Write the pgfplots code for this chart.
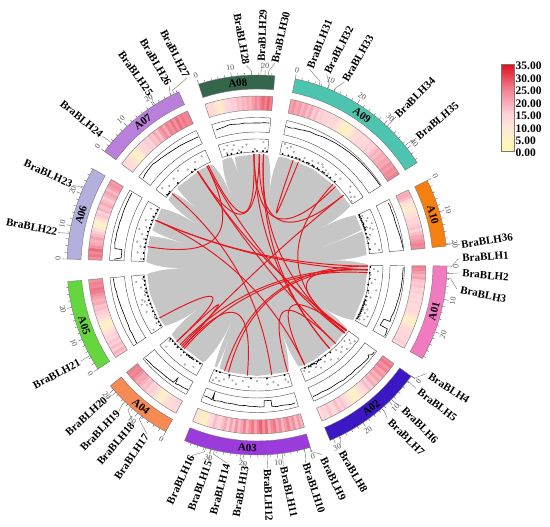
\documentclass[border=0pt]{standalone}
\usepackage{pgfplots}
\usepackage{fontspec}
\setmainfont{Liberation Serif}
\pgfplotsset{compat=1.18}
\pgfplotsset{/pgfplots/table/th/.style={header=false,row sep=\\,x expr=90-\thisrowno{0},y expr=\thisrowno{1}}}

\definecolor{hA}{HTML}{FFFAAE}
\definecolor{hB}{HTML}{FFEBD0}
\definecolor{hC}{HTML}{FFD3DC}
\definecolor{hD}{HTML}{F0808F}
\definecolor{hE}{HTML}{E0101F}
\definecolor{rgray}{HTML}{C6C6C6}
\definecolor{lnk}{HTML}{E8141C}
\definecolor{box}{HTML}{555555}
\definecolor{HotPinkRing}{HTML}{F27AC0}
\definecolor{BlueRing}{HTML}{3B18C4}
\definecolor{PurpleRing}{HTML}{9B3BDB}
\definecolor{OrangeRing}{HTML}{F58A55}
\definecolor{GreenRing}{HTML}{66D63F}
\definecolor{LavRing}{HTML}{B3B0DE}
\definecolor{MauveRing}{HTML}{B87FDB}
\definecolor{DkGreenRing}{HTML}{33664A}
\definecolor{TealRing}{HTML}{4CC4B0}
\definecolor{AmberRing}{HTML}{F57F0F}

% wedge between two clockwise angles (from north) and two radii
\newcommand{\sect}[5]{%
  \gdef\pts{}%
  \foreach \i in {0,...,24}{%
    \pgfmathsetmacro\tt{90-(#1+(#2-#1)*\i/24)}%
    \xdef\pts{\pts(\tt,#4)}%
    \ifnum\i=0 \xdef\first{(\tt,#4)}\fi}%
  \foreach \i in {24,23,...,0}{%
    \pgfmathsetmacro\tt{90-(#1+(#2-#1)*\i/24)}%
    \xdef\pts{\pts(\tt,#3)}}%
  \edef\tmp{\noexpand\addplot[\unexpanded{#5}] coordinates {\pts\first};}\tmp}

% white gap in the grey disc
\newcommand{\spike}[4]{%
  \gdef\pts{}%
  \foreach \i in {0,...,10}{%
    \pgfmathsetmacro\ss{\i/10}%
    \pgfmathsetmacro\tt{90-((#1+#2)/2+\ss*(#3-(#1+#2)/2)-(#2-#1)/2*(1-\ss)*(1-\ss))}%
    \pgfmathsetmacro\rd{112.5-\ss*(112.5-#4)}%
    \xdef\pts{\pts(\tt,\rd)}}%
  \foreach \i in {10,9,...,0}{%
    \pgfmathsetmacro\ss{\i/10}%
    \pgfmathsetmacro\tt{90-((#1+#2)/2+\ss*(#3-(#1+#2)/2)+(#2-#1)/2*(1-\ss)*(1-\ss))}%
    \pgfmathsetmacro\rd{112.5-\ss*(112.5-#4)}%
    \xdef\pts{\pts(\tt,\rd)}}%
  \edef\tmp{\noexpand\addplot[fill=white,draw=none] coordinates {\pts};}\tmp}

% heat track: one radial stroke per value
\newcommand{\heat}[3]{%
  \foreach \val [count=\n] in {#3}{\xdef\nn{\n}}%
  \pgfmathsetmacro\strk{(#2-#1)/\nn*3.1416/180*162+0.35}%
  \foreach \val [count=\n] in {#3}{%
    \pgfmathsetmacro\tt{90-(#1+(#2-#1)*(\n-0.5)/\nn)}%
    \ifdim\val pt<8pt
      \pgfmathtruncatemacro\pc{\val/8*100}\xdef\cc{hB!\pc!hA}%
    \else\ifdim\val pt<15pt
      \pgfmathtruncatemacro\pc{(\val-8)/7*100}\xdef\cc{hC!\pc!hB}%
    \else\ifdim\val pt<25pt
      \pgfmathtruncatemacro\pc{(\val-15)/10*100}\xdef\cc{hD!\pc!hC}%
    \else
      \pgfmathtruncatemacro\pc{(\val-25)/10*100}\xdef\cc{hE!\pc!hD}%
    \fi\fi\fi
    \edef\tmp{\noexpand\addplot[draw=\cc,line width=\strk pt] coordinates {(\tt,155)(\tt,169)};}\tmp}%
  \sect{#1}{#2}{155}{169}{draw=box!70,line width=0.5pt}}

% outer ring with ticks and tick labels
\newcommand{\chrom}[6]{%
  \sect{#1}{#2}{176}{190}{fill=#3,draw=box!80,line width=0.4pt}%
  \gdef\pts{}%
  \foreach \i in {0,...,#6}{%
    \pgfmathsetmacro\tt{90-(#1+2.03*\i)}%
    \pgfmathtruncatemacro\mm{mod(\i,5)}%
    \ifnum\mm=0 \def\rr{194.5}\else\def\rr{192.5}\fi
    \xdef\pts{\pts(\tt,190)(\tt,\rr)(\tt,nan)}%
    \ifnum\mm=0
      \pgfmathtruncatemacro\lab{\i*2}%
      \pgfmathsetmacro\thh{#1+2.03*\i}%
      \pgfmathsetmacro\xx{199*sin(\thh)}%
      \pgfmathsetmacro\yy{199*cos(\thh)}%
      \pgfmathsetmacro\rt{(\thh>90 && \thh<270) ? 180-\thh : -\thh}%
      \edef\tmp{\noexpand\node[font=\noexpand\fontsize{8}{9}\noexpand\selectfont,text=box,rotate=\rt,inner sep=0pt] at (axis cs:\xx,\yy) {\lab};}\tmp
    \fi}%
  \edef\tmp{\noexpand\addplot[draw=box,line width=0.35pt,unbounded coords=jump] coordinates {\pts};}\tmp
  \pgfmathsetmacro\xx{183*sin(#5)}%
  \pgfmathsetmacro\yy{183*cos(#5)}%
  \pgfmathsetmacro\rt{(#5>90 && #5<270) ? 180-#5 : -#5}%
  \edef\tmp{\noexpand\node[font=\noexpand\lbl,rotate=\rt,inner sep=0pt] at (axis cs:\xx,\yy) {#4};}\tmp}

% link between two genes, bent round the centre of the disc
\newcommand{\chord}[2]{%
  \gdef\pts{}%
  \foreach \i in {0,...,30}{%
    \pgfmathsetmacro\uu{\i/30}%
    \pgfmathsetmacro\xx{111*((1-\uu)*(1-\uu)*sin(#1)+\uu*\uu*sin(#2))}%
    \pgfmathsetmacro\yy{111*((1-\uu)*(1-\uu)*cos(#1)+\uu*\uu*cos(#2))}%
    \xdef\pts{\pts(\xx,\yy)}}%
  \edef\tmp{\noexpand\addplot[draw=lnk,line width=0.95pt,data cs=cart] coordinates {\pts};}\tmp}

% gene label with its leader; x,y in picture pixels
\newcommand{\gene}[5]{%
  \pgfmathsetmacro\xa{190*sin(#1)}%
  \pgfmathsetmacro\ya{190*cos(#1)}%
  \pgfmathsetmacro\xb{194*sin(#1)}%
  \pgfmathsetmacro\yb{194*cos(#1)}%
  \pgfmathsetmacro\xc{#2-257}%
  \pgfmathsetmacro\yc{265-#3}%
  \pgfmathsetmacro\sg{(#2<257) ? 1 : -1}%
  \pgfmathsetmacro\xd{\xc+\sg*27*cos(#4)}%
  \pgfmathsetmacro\yd{\yc+\sg*27*sin(#4)}%
  \edef\tmp{\noexpand\addplot[draw=box!80,line width=0.4pt,data cs=cart] coordinates {(\xa,\ya)(\xb,\yb)(\xd,\yd)};}\tmp
  \edef\tmp{\noexpand\node[font=\noexpand\lbl,rotate=#4,inner sep=0pt] at (axis cs:\xc,\yc) {BraBLH#5};}\tmp}

\newcommand{\lbl}{\bfseries\fontsize{11}{12}\selectfont}

\begin{document}
\begin{tikzpicture}
\begin{axis}[
  width=550pt,height=527pt,scale only axis,
  xmin=-257,xmax=293,ymin=-262,ymax=265,
  hide axis,clip=false,
  data cs=polar,
  colormap={circ}{rgb255(0)=(255,250,174) rgb255(8)=(255,235,208) rgb255(15)=(255,211,220) rgb255(25)=(240,128,143) rgb255(35)=(224,16,31)},
]
\path (axis cs:-257,-262) (axis cs:293,265);

% grey disc
\sect{0}{360}{0}{111}{fill=rgray,draw=none}
\spike{5.5}{11.5}{9.5}{73}
\spike{57.5}{63.5}{60.2}{75}
\spike{84.5}{90}{86.5}{73}
\spike{119.5}{125.8}{123}{79}
\spike{157.4}{163.7}{159.7}{71}
\spike{202.4}{208.7}{204}{64}
\spike{230.5}{236.8}{233.3}{75}
\spike{265}{271.8}{267.4}{74}
\spike{300.4}{306.7}{304}{75}
\spike{335.7}{342.1}{339.4}{77}
\spike{310.5}{314}{313}{85}
\spike{285}{288.5}{286.5}{77}
\spike{346.5}{348.5}{348.3}{94}
\spike{71.3}{72.1}{74.7}{68}
\spike{199.8}{201.6}{200.7}{82}

% links
\chord{1.2}{51.1}
\chord{358.4}{45}
\chord{19}{21.9}
\chord{334}{358.4}
\chord{327.7}{1.2}
\chord{279.5}{333.2}
\chord{327.5}{126}
\chord{333.2}{128}
\chord{310}{172.4}
\chord{293.8}{90.6}
\chord{293.8}{92.5}
\chord{3.4}{139}
\chord{293.8}{154.5}
\chord{241.5}{226.3}
\chord{222}{226.3}
\chord{224}{92.5}
\chord{221}{94}
\chord{51.1}{223}
\chord{194.9}{92.5}
\chord{197}{90.6}
\chord{185}{222}
\chord{154.5}{126}
\chord{164}{135}
\chord{92.5}{126.5}
\chord{43.2}{127.6}
\chord{358.4}{139}
\chord{327.7}{135}
\chord{3.4}{127.6}

% scatter track frames
\sect{90.3}{119.5}{113}{126}{draw=box,line width=0.45pt}
\sect{125.8}{157.4}{113}{126}{draw=box,line width=0.45pt}
\sect{163.7}{202.4}{113}{126}{draw=box,line width=0.45pt}
\sect{208.7}{230.5}{113}{126}{draw=box,line width=0.45pt}
\sect{236.8}{265}{113}{126}{draw=box,line width=0.45pt}
\sect{271.8}{300.4}{113}{126}{draw=box,line width=0.45pt}
\sect{306.7}{335.7}{113}{126}{draw=box,line width=0.45pt}
\sect{342.1}{365.4}{113}{126}{draw=box,line width=0.45pt}
\sect{11.6}{57.4}{113}{126}{draw=box,line width=0.45pt}
\sect{63.6}{84.3}{113}{126}{draw=box,line width=0.45pt}

% scatter points
\addplot[only marks,mark=o,mark size=0.85pt,draw=box!70,line width=0.35pt] table[th] {
92 117\\ 93 121\\ 95 114\\ 97 119\\ 99 116\\ 102 122\\ 104 115\\ 106 118\\ 108 115\\ 110 116\\ 112 119\\ 113 115\\ 114 118\\ 115 122\\ 116 115\\ 117 120\\ 118 116\\
128 124\\ 129 119\\ 130 122\\ 131 116\\ 133 123\\ 134 118\\ 136 121\\ 137 116\\ 139 124\\ 142 120\\ 145 118\\ 148 121\\ 150 118\\ 152 115\\ 154 119\\ 156 116\\
165 121\\ 166 118\\ 170 122\\ 172 118\\ 175 120\\ 180 116\\ 184 122\\ 187 117\\ 190 121\\ 192 118\\ 194 116\\ 196 119\\ 198 122\\ 200 120\\ 201 123\\
212 120\\ 216 123\\ 220 118\\ 224 115\\ 228 122\\ 229 116\\
238 122\\ 240 116\\ 243 115\\ 247 120\\ 250 117\\ 251 122\\ 252 118\\ 253 120\\ 255 116\\ 257 115\\ 259 118\\ 262 122\\ 263 115\\
273 116\\ 276 120\\ 279 118\\ 281 122\\ 283 116\\ 285 119\\ 287 123\\ 289 117\\ 292 120\\ 295 115\\ 298 120\\
309 122\\ 312 118\\ 316 120\\ 320 123\\ 324 118\\ 329 120\\ 333 122\\
344 120\\ 345 116\\ 346 123\\ 348 118\\ 349 122\\ 351 116\\ 353 119\\ 355 121\\ 359 116\\ 363 123\\ 364 117\\
13 124\\ 14.5 121\\ 16 123\\ 18 119\\ 21 114\\ 24 117\\ 28 118\\ 31 119\\ 33 120\\ 34 118\\ 36 117\\ 38 116\\ 41 120\\ 44 120\\ 50 122\\ 52 118\\ 54 116\\ 55 119\\ 56 114\\
65 116\\ 67 120\\ 68 118\\ 70 122\\ 71 116\\ 72 119\\ 73 121\\ 75 117\\ 77 115\\ 80 120\\ 83 123\\
};
\addplot[only marks,mark=*,mark size=0.7pt,black] table[th] {
91 113.5\\ 94 113\\ 97 113.5\\ 100 113\\ 103 114\\ 106 114\\ 108 114\\ 109 113.5\\ 110 114\\ 111 113.5\\ 112 114\\ 113 113.5\\ 114 114\\ 115 114\\ 116 113.5\\ 117 114\\ 118 113.5\\
140 114\\ 143 113.5\\ 146 114\\ 147 113.5\\ 148 114\\ 149 115\\ 150 114\\ 151 113.5\\ 152 114\\ 153 114\\ 155 113.5\\
166 113.5\\ 175 114\\ 183 113.5\\ 194 114\\ 199 113.5\\ 201 113.5\\
210 114\\ 212 113.5\\ 214 114\\ 215 113.5\\ 216 114\\ 217 113.5\\ 218 114\\ 220 114\\ 222 113.5\\ 224 114\\ 226 114\\ 228 113.5\\ 229.5 114\\
238 114\\ 240 113.5\\ 242 114\\ 244 113.5\\ 246 114\\ 248 113.5\\ 250 113.5\\ 252 114\\ 254 113.5\\ 256 114\\ 258 113.5\\ 260 114\\ 262 113.5\\ 264 114\\
273 113.5\\ 276 114\\ 279 114\\ 281 113.5\\ 283 114\\ 285 113.5\\ 287 114\\ 289 113.5\\ 291 113.5\\ 293 114\\ 295 114\\ 297 113.5\\ 299 114\\
308 114\\ 309 113.5\\ 310 114\\ 316 114\\ 325 113.5\\ 327 114\\
345 114\\ 347 114\\ 350 113.5\\ 352 114\\ 358 113.5\\ 360 114\\ 363 114\\ 365 114\\
13 114\\ 16 114\\ 18 113.5\\ 20 114\\ 22 114\\ 24 113.5\\ 26 114\\ 27 114\\ 29 114\\ 30 113.5\\ 32 114\\ 33 113.5\\ 35 114\\ 36 114\\ 38 113.5\\ 40 114\\ 43 114\\
64 114\\ 65 113.5\\ 66 114\\ 67 113.5\\ 68 114\\ 69 114\\ 70 113.5\\ 71 114\\ 72 114\\ 74 113.5\\ 76 114\\ 79 113.5\\ 82 114\\
};

% density line track frames
\sect{90.3}{119.5}{133}{147.5}{draw=box,line width=0.45pt}
\sect{125.8}{157.4}{133}{147.5}{draw=box,line width=0.45pt}
\sect{163.7}{202.4}{133}{147.5}{draw=box,line width=0.45pt}
\sect{208.7}{230.5}{133}{147.5}{draw=box,line width=0.45pt}
\sect{236.8}{265}{133}{147.5}{draw=box,line width=0.45pt}
\sect{271.8}{300.4}{133}{147.5}{draw=box,line width=0.45pt}
\sect{306.7}{335.7}{133}{147.5}{draw=box,line width=0.45pt}
\sect{342.1}{365.4}{133}{147.5}{draw=box,line width=0.45pt}
\sect{11.6}{57.4}{133}{147.5}{draw=box,line width=0.45pt}
\sect{63.6}{84.3}{133}{147.5}{draw=box,line width=0.45pt}

\addplot[black,line width=0.6pt] table[th] {91 146.3\\ 93 146\\ 95 146.2\\ 97 145.8\\ 99 146\\ 101 145.6\\ 103 145.5\\ 105 145\\ 107 145\\ 109 144.8\\ 111 144\\ 113 144.5\\ 113.1 138\\ 116 137\\ 116.1 145\\ 118 146\\ 119 146\\};
\addplot[black,line width=0.6pt] table[th] {126.5 146\\ 128 145.8\\ 129 143\\ 129.5 145\\ 131 145\\ 133 144.5\\ 135 144\\ 137 143.5\\ 139 144\\ 141 143.5\\ 143 144\\ 145 143\\ 147 143\\ 149 143.2\\ 151 143\\ 153 142.5\\ 155 143\\ 157 143\\};
\addplot[black,line width=0.6pt] table[th] {164.5 143\\ 166 143.5\\ 168 143\\ 170 142.5\\ 172 143\\ 174 142\\ 174.1 136\\ 177 136\\ 177.1 142\\ 179 142\\ 181 141.5\\ 183 141.5\\ 185 141\\ 187 141.5\\ 189 141\\ 191 141\\ 193 141.5\\ 195 141\\ 197 142\\ 198 142\\ 198.3 135\\ 198.6 142\\ 200 141\\ 202 141\\};
\addplot[black,line width=0.6pt] table[th] {209 142.6\\ 211 143\\ 213 143\\ 214.5 144\\ 215 138\\ 215.5 144\\ 217 144\\ 219 144\\ 222 144\\ 224 144.5\\ 226 145\\ 228 145\\ 230 145.6\\};
\addplot[black,line width=0.6pt] table[th] {237 143.5\\ 239 143\\ 241 142.5\\ 243 142.8\\ 245 142\\ 247 142\\ 249 141.8\\ 251 142\\ 253 142.3\\ 255 142.5\\ 257 143\\ 259 143\\ 261 143.8\\ 263 144\\ 264.7 144.3\\};
\addplot[black,line width=0.6pt] table[th] {272.3 143\\ 273 136\\ 276.5 136\\ 276.6 143\\ 279 144\\ 281 143.6\\ 283 143.9\\ 285 143.5\\ 287 143.8\\ 289 143.5\\ 291 143.7\\ 293 144\\ 295 144\\ 297 144.2\\ 299.8 144.4\\};
\addplot[black,line width=0.6pt] table[th] {307.3 143\\ 309 144\\ 311 144.5\\ 314 145\\ 316 144\\ 318 143.6\\ 320 143\\ 322 142.6\\ 324 142.2\\ 327 142\\ 330 141.5\\ 333 141\\ 335.4 141\\};
\addplot[black,line width=0.6pt] table[th] {343 141\\ 345 141.5\\ 347 142\\ 349 143\\ 351 142.5\\ 353 142\\ 355 142.5\\ 357 142\\ 359 142\\ 361 142\\ 363 142.5\\ 365 142.5\\};
\addplot[black,line width=0.6pt] table[th] {12 141.5\\ 14 141\\ 15.5 142\\ 17 141.8\\ 19 142.5\\ 21.7 143.4\\ 24 143\\ 27 144\\ 30 144.5\\ 33 145\\ 36 145.2\\ 39 145.6\\ 42 145.8\\ 45 146\\ 48 146\\ 51 146.2\\ 54 146.4\\ 57 146.5\\};
\addplot[black,line width=0.6pt] table[th] {64.8 145\\ 66 145.5\\ 68 145\\ 70 145.2\\ 72 144.8\\ 74.7 144.9\\ 77 145.5\\ 79 146\\ 81 146.5\\ 83.5 147\\};

% heat track
\heat{90.3}{119.5}{25,24,22,19,21,17,16,17,15,16,14,15,13,15,12,13,14,12,10,7,6,8,11,13,12,15,14,13,16,14}
\heat{125.8}{157.4}{24,26,23,25,21,23,19,21,18,20,16,18,15,13,10,7,5,6,9,12,14,17,15,18,15,13,17,14,15,13}
\heat{163.7}{202.4}{19,22,18,23,20,25,22,19,24,21,26,24,20,27,23,28,25,21,26,23,19,25,21,18,23,17,21,16,20,18,15,16,18,14,12,7,5,6,9,10}
\heat{208.7}{230.5}{13,15,14,13,12,10,7,5,8,12,14,16,15,18,17,19,21,20,23,25,24,25}
\heat{236.8}{265}{17,19,16,18,15,17,14,15,13,11,8,6,7,10,13,15,16,18,17,20,19,21,23,25,26,24,25,23}
\heat{271.8}{300.4}{23,26,24,27,23,20,19,21,18,16,12,7,5,8,14,17,15,19,17,20,18,16,19,21,18,21,23,22}
\heat{306.7}{335.7}{14,13,12,11,7,5,6,9,13,14,15,16,15,18,17,20,17,22,24,20,25,23,26,23,27,24,26,24,25}
\heat{342.1}{365.4}{13,12,14,11,9,5,11,13,14,15,16,15,18,17,19,18,20,19,22,24,22,25,27,25,28,25}
\heat{11.6}{57.4}{21,23,20,22,19,21,18,20,16,18,15,16,14,15,13,14,15,11,9,5,4,6,8,11,13,12,14,13,15,14,16,15,17,19,18,20,19,21,20,23,22,24,23,25}
\heat{63.6}{84.3}{19,20,18,13,11,9,7,9,11,13,15,14,16,17,15,18,20,21,23,25,24}

% outer ring
\chrom{90.3}{119.5}{HotPinkRing}{A01}{104.6}{14}
\chrom{125.8}{157.4}{BlueRing}{A02}{141.4}{15}
\chrom{163.7}{202.4}{PurpleRing}{A03}{183}{18}
\chrom{208.7}{230.5}{OrangeRing}{A04}{219.3}{10}
\chrom{236.8}{265}{GreenRing}{A05}{250.7}{13}
\chrom{271.8}{300.4}{LavRing}{A06}{285.9}{14}
\chrom{306.7}{335.7}{MauveRing}{A07}{321.4}{14}
\chrom{342.1}{365.4}{DkGreenRing}{A08}{354}{11}
\chrom{11.6}{57.4}{TealRing}{A09}{35}{22}
\chrom{63.6}{84.3}{AmberRing}{A10}{74}{10}

% gene labels
\gene{90.6}{485.5}{256.7}{4}{1}
\gene{92.5}{485.5}{275.3}{-5}{2}
\gene{94}{483.3}{294.7}{-12}{3}
\gene{125.7}{449}{388.3}{-33}{4}
\gene{127.6}{437.3}{405}{-38}{5}
\gene{135}{420}{425}{-45}{6}
\gene{139}{406.3}{437.3}{-45}{7}
\gene{154.5}{353.3}{471.7}{-60}{8}
\gene{163.9}{333.3}{479}{-65}{9}
\gene{165.6}{314}{488.3}{-72}{10}
\gene{172.4}{289}{492.3}{-78}{11}
\gene{176.8}{268.3}{495}{-88}{12}
\gene{185}{240.7}{491.7}{80}{13}
\gene{193}{220}{489.3}{75}{14}
\gene{194}{200}{486}{70}{15}
\gene{195.7}{180.7}{480}{65}{16}
\gene{217.4}{131.7}{456.7}{55}{17}
\gene{221.7}{115.7}{443.7}{50}{18}
\gene{224}{100}{430.7}{46}{19}
\gene{228}{86.3}{416.3}{42}{20}
\gene{241.5}{56.7}{374}{28}{21}
\gene{279.5}{31.7}{227}{-12}{22}
\gene{293.8}{48.3}{173.7}{-25}{23}
\gene{310}{81.7}{119}{-40}{24}
\gene{327.5}{135.7}{73.3}{-55}{25}
\gene{333.2}{155.7}{62.3}{-60}{26}
\gene{334.2}{175}{53.7}{-63}{27}
\gene{358.4}{241.7}{39}{-80}{28}
\gene{1.2}{262.3}{35.7}{88}{29}
\gene{3.4}{280.7}{37.3}{77}{30}
\gene{19}{319.7}{44.3}{68}{31}
\gene{21.9}{339}{50}{63}{32}
\gene{24}{358}{58.7}{60}{33}
\gene{43.2}{415}{97.7}{45}{34}
\gene{51.1}{437.3}{120.7}{40}{35}
\gene{83.5}{487}{240.7}{9}{36}

% colour bar
\addplot[surf,shader=interp,data cs=cart,mesh/cols=2,mesh/ordering=x varies,point meta=\thisrow{v},point meta min=0,point meta max=35] table {
x y v
244 113.3 0
257 113.3 0
244 125.7 5
257 125.7 5
244 138.2 10
257 138.2 10
244 150.6 15
257 150.6 15
244 163.1 20
257 163.1 20
244 175.5 25
257 175.5 25
244 188 30
257 188 30
244 200.7 35
257 200.7 35
};
\addplot[draw=box!80,line width=0.6pt,data cs=cart] coordinates {(244,113.3)(257,113.3)(257,200.7)(244,200.7)(244,113.3)};
\foreach \val/\yy in {35.00/199,30.00/186.7,25.00/174,20.00/161,15.00/149,10.00/136.3,5.00/124,0.00/112}{%
  \edef\tmp{\noexpand\node[font=\noexpand\bfseries\noexpand\fontsize{11.5}{12}\noexpand\selectfont,anchor=west,inner sep=0pt] at (axis cs:258.5,\yy) {\val};}\tmp}
\end{axis}
\end{tikzpicture}
\end{document}
